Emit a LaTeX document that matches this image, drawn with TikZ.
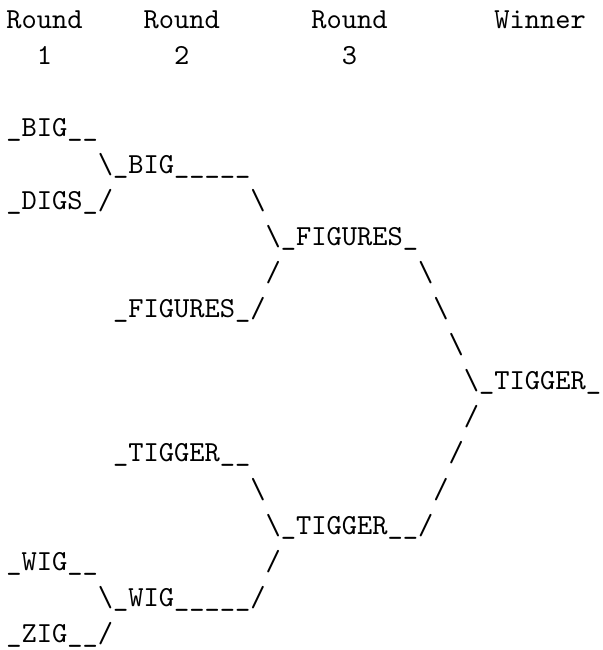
\documentclass[tikz,border=0pt]{standalone}
\usepackage{fontspec}
\tikzset{tok/.style={anchor=base west, inner sep=0pt, outer sep=0pt, font=\ttfamily}}
\newcommand\bcell[4]{\node[tok] (#1) at ({2.2+#2*5.25},{-(9.88+#3*12.43)}) {#4};}
\begin{document}
\begin{tikzpicture}[x=1pt,y=1pt]
\useasboundingbox (0,0) rectangle (207.6,-223.8);
% header
\bcell{h1}{0}{0}{Round}
\bcell{h2}{9}{0}{Round}
\bcell{h3}{20}{0}{Round}
\bcell{h4}{32}{0}{Winner}
\bcell{n1}{2}{1}{1}
\bcell{n2}{11}{1}{2}
\bcell{n3}{22}{1}{3}
% bracket
\bcell{big}{0}{3}{\_BIG\_\_}
\bcell{bigA}{6}{4}{\textbackslash\_BIG\_\_\_\_\_}
\bcell{digs}{0}{5}{\_DIGS\_/}
\bcell{s5}{16}{5}{\textbackslash}
\bcell{fig}{17}{6}{\textbackslash\_FIGURES\_}
\bcell{s7a}{17}{7}{/}
\bcell{s7b}{27}{7}{\textbackslash}
\bcell{figA}{7}{8}{\_FIGURES\_/}
\bcell{s8}{28}{8}{\textbackslash}
\bcell{s9}{29}{9}{\textbackslash}
\bcell{win}{30}{10}{\textbackslash\_TIGGER\_}
\bcell{s11}{30}{11}{/}
\bcell{tig}{7}{12}{\_TIGGER\_\_}
\bcell{s12}{29}{12}{/}
\bcell{s13a}{16}{13}{\textbackslash}
\bcell{s13b}{28}{13}{/}
\bcell{tigA}{17}{14}{\textbackslash\_TIGGER\_\_/}
\bcell{wig}{0}{15}{\_WIG\_\_}
\bcell{s15}{17}{15}{/}
\bcell{wigA}{6}{16}{\textbackslash\_WIG\_\_\_\_\_/}
\bcell{zig}{0}{17}{\_ZIG\_\_/}
\end{tikzpicture}
\end{document}
